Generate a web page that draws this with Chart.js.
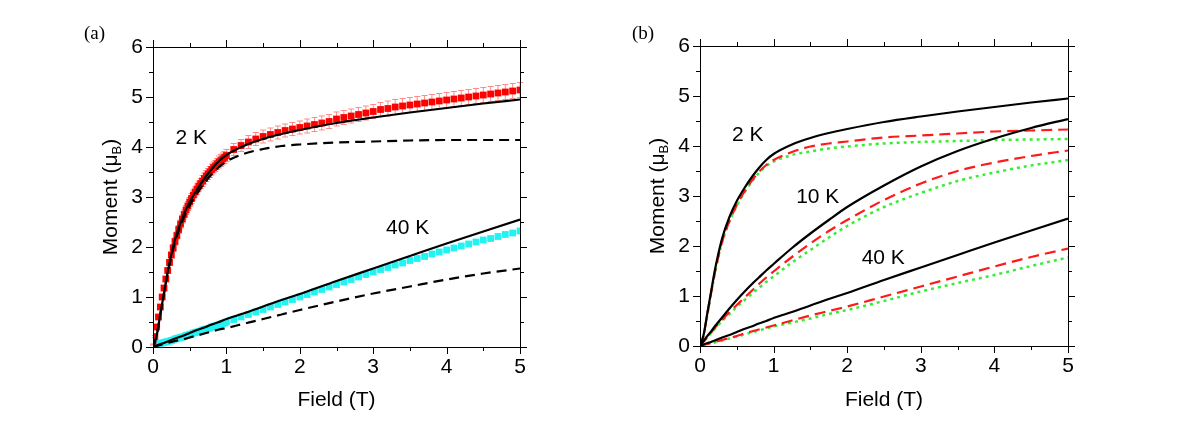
<!DOCTYPE html>
<html>
<head>
<meta charset="utf-8">
<script src="https://cdn.jsdelivr.net/npm/chart.js@4.4.1/dist/chart.umd.min.js"></script>
<style>
  body { margin: 0; background: #fff; }
  .panel { position: absolute; top: 0; width: 600px; height: 424px; }
  #pa { left: 0; }
  #pb { left: 600px; }
</style>
</head>
<body>
<div class="panel" id="pa"><canvas id="chartA" width="600" height="424"></canvas></div>
<div class="panel" id="pb"><canvas id="chartB" width="600" height="424"></canvas></div>
<script>
// field grid of the model curves (T)
const fitField = [0, 0.05, 0.1, 0.15, 0.2, 0.25, 0.3, 0.4, 0.5, 0.6, 0.7, 0.8, 0.9, 1.0, 1.25, 1.5, 1.75, 2.0, 2.5, 3.0, 3.5, 4.0, 4.5, 5.0];

// model curves (moment in muB)
const fit2K     = [0, 0.23, 0.66, 1.08, 1.5, 1.85, 2.15, 2.58, 2.9, 3.15, 3.37, 3.56, 3.72, 3.84, 4.03, 4.16, 4.26, 4.34, 4.48, 4.59, 4.69, 4.78, 4.87, 4.95];
const dash2K    = [0, 0.23, 0.66, 1.07, 1.47, 1.81, 2.1, 2.52, 2.83, 3.07, 3.28, 3.46, 3.6, 3.71, 3.87, 3.96, 4.02, 4.05, 4.09, 4.11, 4.13, 4.14, 4.14, 4.14];
const fit40K    = [0, 0.03, 0.06, 0.08, 0.11, 0.14, 0.17, 0.22, 0.28, 0.34, 0.39, 0.45, 0.5, 0.56, 0.68, 0.81, 0.94, 1.06, 1.32, 1.57, 1.82, 2.07, 2.31, 2.55];
const dash40K   = [0, 0.02, 0.04, 0.06, 0.08, 0.1, 0.12, 0.15, 0.19, 0.23, 0.27, 0.31, 0.35, 0.38, 0.47, 0.56, 0.65, 0.74, 0.91, 1.07, 1.21, 1.35, 1.47, 1.57];

const red2K     = [0, 0.22, 0.64, 1.05, 1.45, 1.79, 2.08, 2.5, 2.82, 3.08, 3.3, 3.48, 3.62, 3.72, 3.88, 3.99, 4.05, 4.09, 4.17, 4.21, 4.25, 4.29, 4.31, 4.33];
const green2K   = [0, 0.22, 0.63, 1.04, 1.44, 1.78, 2.07, 2.49, 2.8, 3.06, 3.28, 3.46, 3.6, 3.69, 3.82, 3.89, 3.95, 3.99, 4.05, 4.08, 4.1, 4.12, 4.13, 4.14];
const fit10K    = [0, 0.1, 0.2, 0.29, 0.39, 0.48, 0.57, 0.75, 0.92, 1.08, 1.23, 1.37, 1.51, 1.64, 1.96, 2.25, 2.52, 2.78, 3.21, 3.59, 3.9, 4.15, 4.36, 4.54];
const red10K    = [0, 0.09, 0.18, 0.27, 0.36, 0.44, 0.52, 0.68, 0.82, 0.96, 1.1, 1.24, 1.37, 1.49, 1.78, 2.05, 2.3, 2.52, 2.92, 3.25, 3.5, 3.67, 3.8, 3.91];
const green10K  = [0, 0.09, 0.17, 0.26, 0.34, 0.42, 0.5, 0.64, 0.78, 0.91, 1.04, 1.16, 1.28, 1.39, 1.67, 1.92, 2.17, 2.4, 2.78, 3.06, 3.3, 3.47, 3.61, 3.72];
const red40K    = [0, 0.02, 0.04, 0.06, 0.08, 0.1, 0.12, 0.16, 0.2, 0.25, 0.29, 0.33, 0.37, 0.41, 0.51, 0.61, 0.7, 0.79, 0.99, 1.19, 1.39, 1.59, 1.78, 1.95];
const green40K  = [0, 0.02, 0.04, 0.05, 0.07, 0.09, 0.11, 0.15, 0.19, 0.23, 0.27, 0.31, 0.35, 0.39, 0.47, 0.55, 0.64, 0.72, 0.9, 1.09, 1.26, 1.42, 1.6, 1.77];

// measured points (panel a)
const dataField = [0, 0.025, 0.05, 0.075, 0.1, 0.125, 0.15, 0.175, 0.2, 0.225, 0.25, 0.275, 0.3, 0.325, 0.35, 0.375, 0.4, 0.425, 0.45, 0.475,
  0.5, 0.525, 0.55, 0.575, 0.6, 0.625, 0.65, 0.675, 0.7, 0.725, 0.75, 0.775, 0.8, 0.825, 0.85, 0.875, 0.9, 0.925, 0.95, 0.975, 1.0,
  1.1, 1.2, 1.3, 1.4, 1.5, 1.6, 1.7, 1.8, 1.9, 2.0, 2.1, 2.2, 2.3, 2.4, 2.5, 2.6, 2.7, 2.8, 2.9, 3.0,
  3.1, 3.2, 3.3, 3.4, 3.5, 3.6, 3.7, 3.8, 3.9, 4.0, 4.1, 4.2, 4.3, 4.4, 4.5, 4.6, 4.7, 4.8, 4.9, 5.0];
const moment2K = [0.05, 0.21, 0.4, 0.6, 0.8, 1.0, 1.18, 1.36, 1.53, 1.69, 1.84, 1.98, 2.11, 2.23, 2.35, 2.46, 2.56, 2.65, 2.74, 2.82,
  2.9, 2.97, 3.04, 3.1, 3.16, 3.22, 3.27, 3.32, 3.37, 3.42, 3.46, 3.5, 3.55, 3.59, 3.62, 3.66, 3.7, 3.73, 3.76, 3.79, 3.83,
  3.95, 4.03, 4.1, 4.16, 4.21, 4.25, 4.29, 4.33, 4.36, 4.39, 4.42, 4.45, 4.48, 4.51, 4.56, 4.59, 4.62, 4.65, 4.68, 4.71,
  4.75, 4.77, 4.8, 4.82, 4.84, 4.86, 4.88, 4.9, 4.92, 4.94, 4.96, 4.98, 5.0, 5.02, 5.04, 5.06, 5.08, 5.1, 5.12, 5.14];
const err2K = [0.01, 0.02, 0.02, 0.03, 0.03, 0.04, 0.04, 0.05, 0.05, 0.06, 0.06, 0.07, 0.07, 0.07, 0.08, 0.08, 0.08, 0.09, 0.09, 0.09,
  0.09, 0.1, 0.1, 0.1, 0.1, 0.1, 0.1, 0.11, 0.11, 0.11, 0.11, 0.11, 0.11, 0.11, 0.11, 0.11, 0.12, 0.12, 0.12, 0.12, 0.12,
  0.12, 0.12, 0.13, 0.13, 0.13, 0.13, 0.13, 0.13, 0.13, 0.13, 0.14, 0.14, 0.14, 0.14, 0.14, 0.14, 0.14, 0.14, 0.14, 0.14,
  0.14, 0.15, 0.15, 0.15, 0.15, 0.15, 0.15, 0.15, 0.15, 0.15, 0.15, 0.15, 0.15, 0.15, 0.15, 0.15, 0.15, 0.15, 0.15, 0.15];
const moment40K = [0.03, 0.04, 0.05, 0.06, 0.07, 0.08, 0.09, 0.1, 0.11, 0.12, 0.13, 0.14, 0.16, 0.17, 0.18, 0.19, 0.2, 0.21, 0.23, 0.24,
  0.25, 0.26, 0.28, 0.29, 0.3, 0.31, 0.32, 0.34, 0.35, 0.36, 0.37, 0.38, 0.4, 0.41, 0.42, 0.43, 0.44, 0.46, 0.47, 0.48, 0.5,
  0.55, 0.6, 0.65, 0.7, 0.75, 0.8, 0.85, 0.9, 0.95, 1.0, 1.05, 1.1, 1.15, 1.2, 1.25, 1.3, 1.35, 1.4, 1.45, 1.5,
  1.55, 1.59, 1.64, 1.68, 1.73, 1.77, 1.81, 1.86, 1.9, 1.94, 1.98, 2.02, 2.06, 2.1, 2.14, 2.17, 2.21, 2.25, 2.28, 2.32];

const xTicks = [0, 1, 2, 3, 4, 5];
const yTicks = [0, 1, 2, 3, 4, 5, 6];

// text labels on the curves: [text, field, moment]
const labelsA = [['2 K', 0.52, 4.18], ['40 K', 3.47, 2.38]];
const labelsB = [['2 K', 0.65, 4.22], ['10 K', 1.6, 2.98], ['40 K', 2.49, 1.76]];

const FONT = "'Liberation Sans', Arial, sans-serif";

function pts(xs, ys) {
  return xs.map((x, i) => ({ x: x, y: ys[i] }));
}

function curve(ys, color, dash, width) {
  return {
    data: pts(fitField, ys),
    showLine: true,
    borderColor: color,
    borderWidth: width || 2.2,
    borderDash: dash || [],
    pointRadius: 0,
    cubicInterpolationMode: 'monotone',
    order: 0
  };
}

function squares(ys, color) {
  return {
    data: pts(dataField, ys),
    showLine: false,
    pointStyle: 'rect',
    pointRadius: 4.8,
    pointBorderWidth: 0,
    pointBackgroundColor: color,
    borderColor: color,
    order: 1
  };
}

// frame, minor/major ticks, y title, curve labels, error bars
const decor = {
  id: 'decor',
  beforeDatasetsDraw(chart, args, opts) {
    if (!opts.err) return;
    const ctx = chart.ctx, xs = chart.scales.x, ys = chart.scales.y;
    ctx.save();
    ctx.strokeStyle = '#ff8a8a';
    ctx.lineWidth = 1;
    dataField.forEach((f, i) => {
      const px = xs.getPixelForValue(f);
      const top = ys.getPixelForValue(moment2K[i] + err2K[i]);
      const bot = ys.getPixelForValue(moment2K[i] - err2K[i]);
      ctx.beginPath();
      ctx.moveTo(px, top); ctx.lineTo(px, bot);
      ctx.moveTo(px - 3, top); ctx.lineTo(px + 3, top);
      ctx.moveTo(px - 3, bot); ctx.lineTo(px + 3, bot);
      ctx.stroke();
    });
    ctx.restore();
  },
  afterDraw(chart, args, opts) {
    const ctx = chart.ctx, a = chart.chartArea;
    const xs = chart.scales.x, ys = chart.scales.y;
    ctx.save();
    ctx.strokeStyle = '#000';
    ctx.lineWidth = 1;
    ctx.strokeRect(Math.round(a.left) + 0.5, Math.round(a.top) + 0.5, Math.round(a.right - a.left), Math.round(a.bottom - a.top));
    ctx.beginPath();
    for (let v = 0; v <= 5.001; v += 0.5) {
      const px = Math.round(xs.getPixelForValue(v)) + 0.5;
      const len = Number.isInteger(v) ? 7 : 4;
      ctx.moveTo(px, a.bottom); ctx.lineTo(px, a.bottom + len);
      ctx.moveTo(px, a.top); ctx.lineTo(px, a.top - len);
    }
    for (let v = 0; v <= 6.001; v += 0.5) {
      const py = Math.round(ys.getPixelForValue(v)) + 0.5;
      const len = Number.isInteger(v) ? 7 : 4;
      ctx.moveTo(a.left, py); ctx.lineTo(a.left - len, py);
      ctx.moveTo(a.right, py); ctx.lineTo(a.right + len, py);
    }
    ctx.stroke();

    // y title with subscript
    ctx.fillStyle = '#000';
    ctx.translate(a.left - 42, (a.top + a.bottom) / 2);
    ctx.rotate(-Math.PI / 2);
    ctx.textBaseline = 'middle';
    ctx.textAlign = 'left';
    const big = '21px ' + FONT, small = '13px ' + FONT;
    ctx.font = big;
    const w1 = ctx.measureText('Moment (\u03bc').width;
    const w3 = ctx.measureText(')').width;
    ctx.font = small;
    const w2 = ctx.measureText('B').width;
    let x0 = -(w1 + w2 + w3) / 2;
    ctx.font = big;
    ctx.fillText('Moment (\u03bc', x0, 0);
    ctx.font = small;
    ctx.fillText('B', x0 + w1, 6);
    ctx.font = big;
    ctx.fillText(')', x0 + w1 + w2, 0);
    ctx.restore();

    // curve labels
    ctx.save();
    ctx.fillStyle = '#000';
    ctx.font = '21px ' + FONT;
    ctx.textAlign = 'center';
    ctx.textBaseline = 'middle';
    opts.labels.forEach(l => {
      ctx.fillText(l[0], xs.getPixelForValue(l[1]), ys.getPixelForValue(l[2]));
    });
    // panel letter
    ctx.font = "19px 'Liberation Serif', 'DejaVu Serif', serif";
    ctx.textAlign = 'left';
    ctx.fillText(opts.letter, opts.letterX, 34);
    ctx.restore();
  }
};

function makeChart(id, datasets, pad, labels, letter, letterX, err) {
  return new Chart(document.getElementById(id), {
    type: 'scatter',
    data: { datasets: datasets },
    plugins: [decor],
    options: {
      responsive: false,
      animation: false,
      layout: { padding: { left: 0, top: pad.top, right: pad.right, bottom: 0 } },
      plugins: {
        legend: { display: false },
        tooltip: { enabled: false },
        decor: { labels: labels, letter: letter, letterX: letterX, err: err }
      },
      scales: {
        x: {
          type: 'linear', min: 0, max: 5,
          afterBuildTicks: s => { s.ticks = xTicks.map(v => ({ value: v })); },
          afterFit: s => { s.height = pad.bottom; },
          grid: { display: false, drawTicks: false },
          border: { display: false },
          ticks: { color: '#000', font: { family: FONT, size: 21 }, padding: 8, maxRotation: 0 },
          title: { display: true, text: 'Field (T)', color: '#000', font: { family: FONT, size: 21 }, padding: { top: 4, bottom: 11 } }
        },
        y: {
          type: 'linear', min: 0, max: 6,
          afterBuildTicks: s => { s.ticks = yTicks.map(v => ({ value: v })); },
          afterFit: s => { s.width = pad.left; },
          grid: { display: false, drawTicks: false },
          border: { display: false },
          ticks: { color: '#000', font: { family: FONT, size: 21 }, padding: 10 }
        }
      }
    }
  });
}

makeChart('chartA', [
  curve(fit2K, '#000'),
  curve(dash2K, '#000', [10, 6]),
  curve(fit40K, '#000'),
  curve(dash40K, '#000', [10, 6]),
  squares(moment2K, '#ff0000'),
  squares(moment40K, '#22f2f2')
], { left: 153, top: 47, right: 80, bottom: 77 }, labelsA, '(a)', 84, true);

makeChart('chartB', [
  curve(fit2K, '#000'),
  curve(fit10K, '#000'),
  curve(fit40K, '#000'),
  curve(red2K, '#ff1a1a', [11, 6]),
  curve(red10K, '#ff1a1a', [11, 6]),
  curve(red40K, '#ff1a1a', [11, 6]),
  curve(green2K, '#33ee33', [3, 4], 2.5),
  curve(green10K, '#33ee33', [3, 4], 2.5),
  curve(green40K, '#33ee33', [3, 4], 2.5)
], { left: 100, top: 46, right: 132, bottom: 78 }, labelsB, '(b)', 32, false);
</script>
</body>
</html>
